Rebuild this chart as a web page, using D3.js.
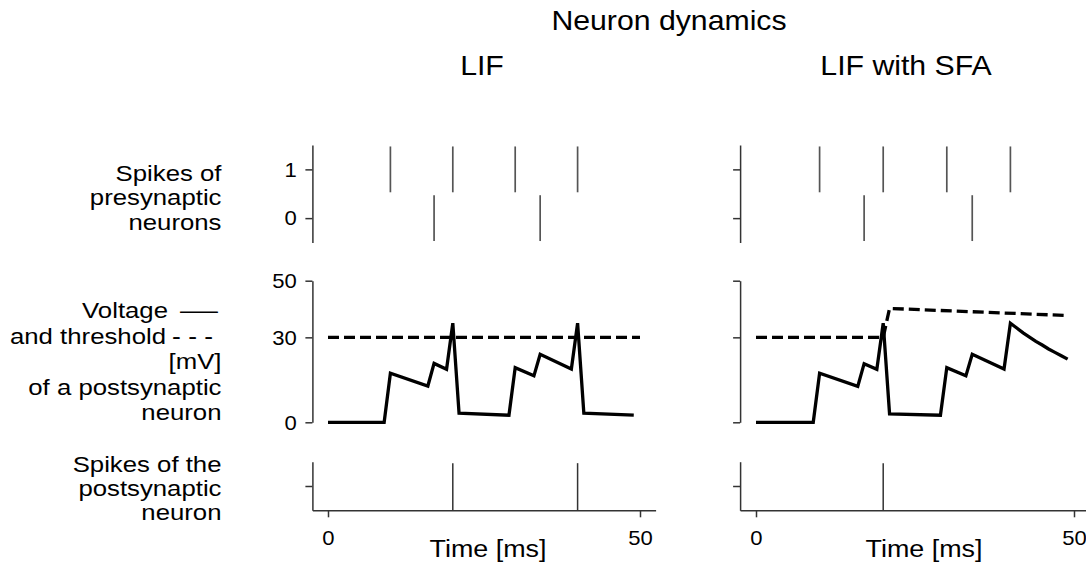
<!DOCTYPE html>
<html>
<head>
<meta charset="utf-8">
<script src="https://cdn.jsdelivr.net/npm/d3@7"></script>
<style>
  body { margin: 0; background: #fff; }
  svg { display: block; font-family: "Liberation Sans", Arial, sans-serif; }
</style>
</head>
<body>
<svg id="chart" width="1086" height="562"></svg>
<script>
"use strict";

// presynaptic spike trains, same input for both neurons [ms]
const preSpikesRow0 = [17, 34];
const preSpikesRow1 = [10, 20, 30, 40];

// postsynaptic spikes [ms]
const postSpikesLIF = [20, 40];
const postSpikesSFA = [20];

// membrane voltage [mV]
const lifTime = [0, 9, 10, 16, 17, 19, 20, 21, 29, 30, 33, 34, 39, 40, 41, 49];
const lifVoltage = [0, 0, 17.3, 12.8, 20.8, 18.7, 35, 3.2, 2.5, 19.3, 16.4, 24, 18.8, 35, 3.2, 2.5];
const sfaTime = [0, 9, 10, 16, 17, 19, 20, 21, 29, 30, 33, 34, 39, 40, 41, 42, 43, 44, 45, 46, 47, 48, 49];
const sfaVoltage = [0, 0, 17.3, 12.7, 20.7, 18.7, 35, 3, 2.5, 19.3, 16.4, 24, 18.8, 35, 33.3, 31.6, 30.1, 28.6, 27.3, 25.9, 24.7, 23.5, 22.3];

// firing threshold [mV]
const lifThrTime = [0, 50];
const lifThreshold = [30, 30];
const sfaThrTime = [0, 20, 21, 49];
const sfaThreshold = [30, 30, 40.2, 37.7];

// ticks
const rowTicks = [0, 1];
const voltageTicks = [0, 30, 50];
const timeTicks = [0, 50];

const mainTitle = "Neuron dynamics";
const rowLabels1 = ["Spikes of", "presynaptic", "neurons"];
const rowLabels2 = ["Voltage", "and threshold", "[mV]", "of a postsynaptic", "neuron"];
const rowLabels3 = ["Spikes of the", "postsynaptic", "neuron"];

const svg = d3.select("#chart");
const ink = "#333";

// the picture is a little wider than tall, so text gets a small x stretch
function label(sel, x, y, str, size, sx, anchor) {
  return sel.append("text")
    .attr("transform", `translate(${x},${y}) scale(${sx},1)`)
    .attr("text-anchor", anchor || "middle")
    .attr("font-size", size)
    .attr("fill", "#000")
    .text(str);
}

function styleAxis(g, sx) {
  g.select(".domain").attr("stroke", ink).attr("stroke-width", 1.5);
  g.selectAll(".tick line").attr("stroke", ink).attr("stroke-width", 1.5);
  g.selectAll(".tick text")
    .attr("font-size", 21)
    .attr("font-family", "Liberation Sans, Arial, sans-serif")
    .attr("fill", "#000")
    .attr("transform", `scale(${sx},1)`);
}

const yTop = d3.scaleLinear().domain([-0.5, 1.5]).range([242.5, 145]);
const yMid = d3.scaleLinear().domain([0, 50]).range([422.3, 280.7]);
const yBot = d3.scaleLinear().domain([-0.5, 0.5]).range([510.3, 461.7]);

const panels = [
  { title: "LIF", titleX: 482, timeX: 488, range: [312.4, 655.6], tickLabels: true,
    post: postSpikesLIF, vt: lifTime, v: lifVoltage, tt: lifThrTime, th: lifThreshold },
  { title: "LIF with SFA", titleX: 906, timeX: 924, range: [740.1, 1089.9], tickLabels: false,
    post: postSpikesSFA, vt: sfaTime, v: sfaVoltage, tt: sfaThrTime, th: sfaThreshold }
];

panels.forEach(function(p) {
  const x = d3.scaleLinear().domain([-2.5, 52.5]).range(p.range);
  const g = svg.append("g");
  const fmt = p.tickLabels ? d3.format("d") : () => "";

  // presynaptic raster
  const gTop = g.append("g").attr("transform", `translate(${p.range[0]},0)`)
    .call(d3.axisLeft(yTop).tickValues(rowTicks).tickSize(7).tickSizeOuter(0).tickPadding(8).tickFormat(fmt));
  styleAxis(gTop, 1.05);

  const rows = [preSpikesRow0, preSpikesRow1];
  rows.forEach(function(times, row) {
    g.selectAll(null)
      .data(times)
      .enter()
      .append("line")
      .attr("x1", d => x(d)).attr("x2", d => x(d))
      .attr("y1", yTop(row - 0.47)).attr("y2", yTop(row + 0.47))
      .attr("stroke", "#555")
      .attr("stroke-width", 1.7);
  });

  // voltage and threshold
  const gMid = g.append("g").attr("transform", `translate(${p.range[0]},0)`)
    .call(d3.axisLeft(yMid).tickValues(voltageTicks).tickSize(7).tickSizeOuter(0).tickPadding(8).tickFormat(fmt));
  styleAxis(gMid, 1.05);

  const line = d3.line().x(d => x(d[0])).y(d => yMid(d[1]));

  g.append("path")
    .datum(d3.zip(p.tt, p.th))
    .attr("d", line)
    .attr("fill", "none")
    .attr("stroke", "#000")
    .attr("stroke-width", 3.3)
    .attr("stroke-dasharray", "11,5");

  g.append("path")
    .datum(d3.zip(p.vt, p.v))
    .attr("d", line)
    .attr("fill", "none")
    .attr("stroke", "#000")
    .attr("stroke-width", 3.3)
    .attr("stroke-linejoin", "miter")
    .attr("stroke-miterlimit", 4);

  // postsynaptic spikes
  const gBotY = g.append("g").attr("transform", `translate(${p.range[0]},0)`)
    .call(d3.axisLeft(yBot).tickValues([0]).tickSize(7).tickSizeOuter(0).tickFormat(() => ""));
  styleAxis(gBotY, 1.05);

  const gBotX = g.append("g").attr("transform", `translate(0,${yBot.range()[0]})`)
    .call(d3.axisBottom(x).tickValues(timeTicks).tickSize(7).tickSizeOuter(0).tickPadding(13).tickFormat(d3.format("d")));
  styleAxis(gBotX, 1.05);

  g.selectAll(null)
    .data(p.post)
    .enter()
    .append("line")
    .attr("x1", d => x(d)).attr("x2", d => x(d))
    .attr("y1", yBot(-0.5)).attr("y2", yBot(0.47))
    .attr("stroke", ink)
    .attr("stroke-width", 1.5);

  label(g, p.titleX, 75, p.title, 28, 1.08);
  label(g, p.timeX, 557, "Time [ms]", 24, 1.12);
});

label(svg, 669, 30, mainTitle, 28, 1.08);

// row labels on the left
const labelRight = 221.5;
rowLabels1.forEach((s, i) => label(svg, labelRight, 180.7 + i * 24.5, s, 23, 1.12, "end"));
rowLabels3.forEach((s, i) => label(svg, labelRight, 471.7 + i * 24.2, s, 23, 1.12, "end"));
rowLabels2.forEach(function(s, i) {
  let right = labelRight;
  if (i === 0) right = 168;
  if (i === 1) right = 166;
  label(svg, right, 318 + i * 25.5, s, 23, 1.12, "end");
});
// line-style keys after "Voltage" and "and threshold"
label(svg, 180, 318, "\u2014", 23, 1.65, "start");
label(svg, 172, 343.5, "- - -", 23, 1.15, "start");
</script>
</body>
</html>
